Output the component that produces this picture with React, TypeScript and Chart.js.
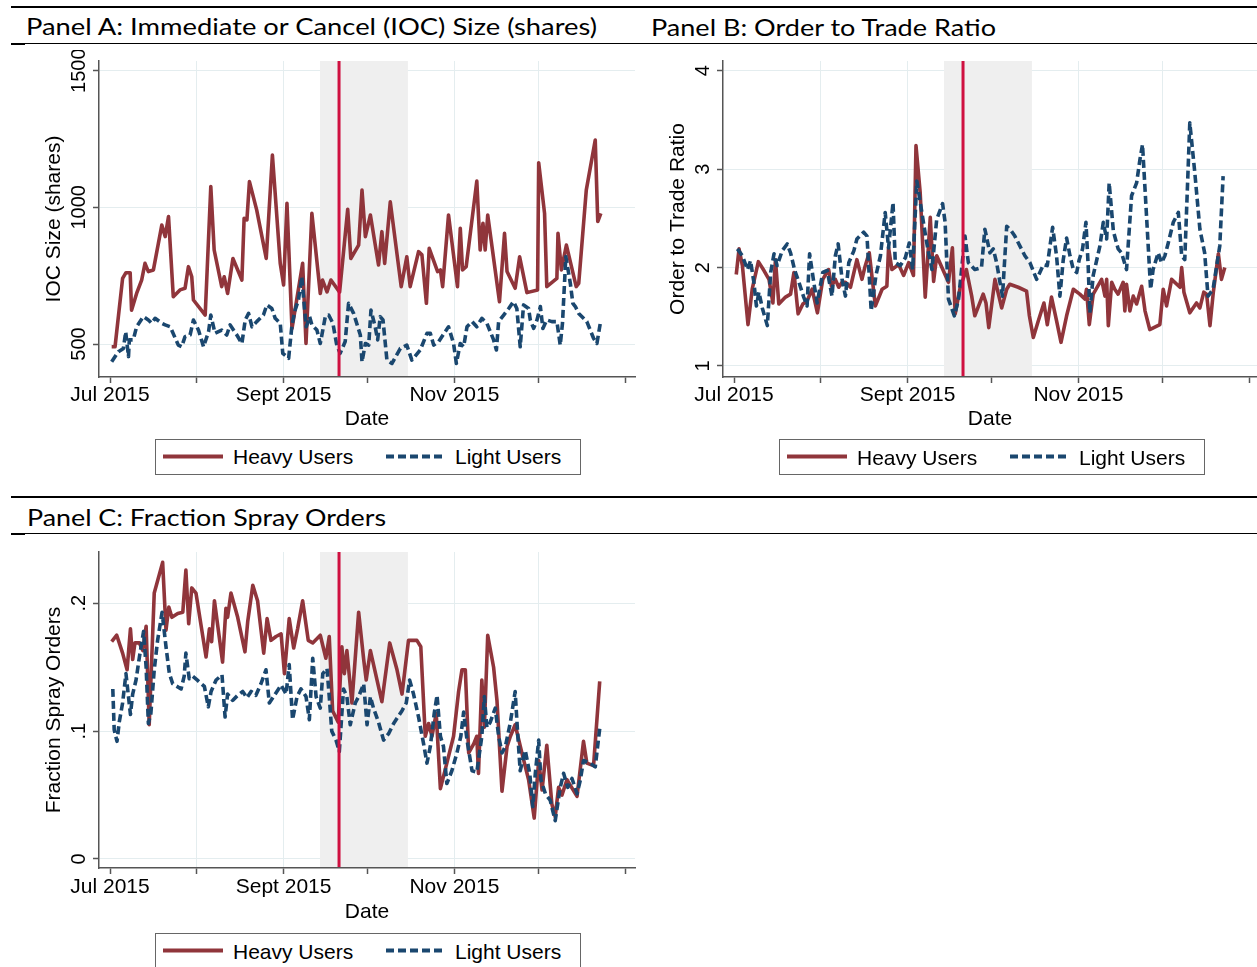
import React, { useEffect, useLayoutEffect, useRef } from "react";
import { Chart, registerables } from "chart.js";

Chart.register(...registerables);

// ---------------- data ----------------
// x values are days since 1 Jul 2015
const monthTickDays = [0, 31, 62, 92, 123, 153, 184];
const monthTickLabels = ["Jul 2015", "", "Sept 2015", "", "Nov 2015", "", ""];
const gridDays = [31, 62, 92, 123, 153];
const shadeStartDay = 75;
const shadeEndDay = 106.4;
const eventDay = 81.8;

const seriesNames = ["Heavy Users", "Light Users"];
const panelTitles = [
  "Panel A: Immediate or Cancel (IOC) Size (shares)",
  "Panel B: Order to Trade Ratio",
  "Panel C: Fraction Spray Orders",
];
const yTitles = ["IOC Size (shares)", "Order to Trade Ratio", "Fraction Spray Orders"];
const xTitle = "Date";

const iocTicks = [500, 1000, 1500];
const iocTickLabels = ["500", "1000", "1500"];
const otrTicks = [1, 2, 3, 4];
const otrTickLabels = ["1", "2", "3", "4"];
const sprayTicks = [0, 0.1, 0.2];
const sprayTickLabels = ["0", ".1", ".2"];

// Panel A – IOC size, heavy users
const iocHeavyDays = [0.6, 1.8, 4.5, 5.7, 7.2, 7.7, 9.5, 11.3, 12.5, 13.7, 15.5, 18.5, 19.7, 20.9, 22.6, 25.0, 26.8, 28.0, 29.2, 29.8, 34.0, 36.0, 37.2, 39.9, 40.8, 42.0, 43.9, 47.1, 47.9, 48.9, 49.8, 52.4, 55.8, 58.0, 60.8, 62.0, 63.2, 65.0, 68.8, 70.0, 72.1, 75.1, 75.9, 77.5, 78.9, 82.0, 84.9, 86.0, 88.8, 90.0, 91.2, 93.0, 95.9, 97.1, 98.1, 100.1, 104.0, 106.0, 107.2, 110.2, 111.4, 113.0, 114.0, 117.0, 118.0, 118.8, 120.9, 124.1, 125.1, 125.9, 127.2, 131.0, 132.2, 133.2, 134.0, 134.9, 139.1, 140.9, 141.8, 144.7, 146.3, 148.9, 152.7, 153.1, 155.2, 156.0, 159.6, 160.0, 161.2, 163.0, 166.5, 167.4, 170.1, 173.3, 174.2, 175.3];
const iocHeavyVals = [490, 490, 740, 761, 761, 624, 685, 734, 795, 765, 771, 935, 893, 966, 673, 698, 704, 783, 746, 661, 606, 1076, 844, 710, 746, 685, 813, 734, 960, 954, 1094, 990, 813, 1191, 795, 716, 1015, 557, 795, 502, 978, 685, 734, 691, 734, 690, 993, 813, 862, 1063, 893, 972, 789, 911, 795, 1020, 710, 819, 710, 838, 826, 649, 850, 765, 771, 710, 972, 710, 923, 771, 783, 1096, 844, 942, 844, 972, 655, 905, 765, 704, 819, 688, 698, 1163, 978, 710, 740, 905, 771, 862, 710, 722, 1063, 1246, 948, 978];

// Panel A – IOC size, light users
const iocLightDays = [0.6, 3.0, 4.8, 5.6, 6.6, 6.9, 8.3, 9.5, 11.9, 13.7, 14.9, 16.1, 18.5, 19.7, 21.5, 24.4, 25.6, 26.8, 28.6, 29.8, 31.6, 33.4, 35.2, 36.0, 37.5, 39.9, 41.7, 42.9, 44.1, 45.3, 47.1, 48.3, 49.5, 50.7, 52.4, 53.6, 54.8, 56.0, 57.8, 59.0, 60.8, 61.7, 63.8, 65.0, 66.1, 67.3, 68.5, 69.4, 70.1, 71.3, 72.1, 73.9, 75.1, 76.9, 78.1, 79.6, 81.0, 82.2, 84.0, 85.2, 87.0, 89.4, 90.0, 91.2, 92.4, 93.2, 94.7, 95.6, 96.5, 97.5, 98.9, 100.7, 103.7, 106.0, 107.8, 110.8, 113.2, 114.4, 115.6, 117.4, 119.7, 120.9, 122.7, 123.7, 125.1, 126.3, 127.5, 129.3, 131.0, 132.8, 134.6, 137.0, 138.0, 138.8, 140.6, 142.4, 144.1, 145.3, 146.5, 147.7, 149.5, 150.1, 151.3, 152.5, 153.7, 154.6, 156.0, 157.8, 159.6, 160.8, 161.6, 162.8, 164.4, 165.3, 166.2, 167.4, 170.3, 172.7, 173.9, 175.1];
const iocLightVals = [435, 472, 484, 545, 454, 515, 515, 563, 600, 588, 576, 594, 576, 570, 563, 496, 490, 527, 533, 588, 551, 490, 545, 606, 539, 551, 533, 570, 551, 533, 502, 588, 612, 563, 582, 594, 606, 643, 630, 594, 576, 466, 448, 570, 624, 661, 746, 637, 563, 600, 570, 551, 502, 600, 606, 576, 495, 466, 509, 649, 612, 533, 435, 502, 496, 624, 563, 515, 600, 588, 441, 429, 484, 496, 441, 478, 539, 539, 496, 509, 545, 563, 502, 429, 502, 490, 563, 582, 563, 594, 576, 515, 478, 582, 606, 630, 655, 630, 490, 643, 630, 588, 557, 588, 637, 557, 588, 582, 582, 496, 576, 820, 722, 649, 637, 612, 582, 521, 502, 576];

// Panel B – order to trade ratio, heavy users
const otrHeavyDays = [0.8, 1.8, 3.0, 5.0, 6.5, 8.7, 10.7, 12.5, 13.9, 14.8, 16.0, 18.4, 20.2, 21.4, 22.9, 24.6, 26.1, 27.9, 29.8, 31.7, 33.8, 34.8, 36.2, 37.4, 38.6, 39.8, 41.6, 43.9, 45.7, 46.7, 48.3, 50.5, 52.9, 54.6, 55.2, 56.4, 58.8, 60.6, 62.4, 64.1, 65.0, 66.5, 68.3, 70.1, 71.3, 72.4, 76.6, 78.0, 79.0, 80.8, 83.0, 84.9, 86.0, 89.0, 90.0, 91.0, 93.2, 95.6, 97.4, 98.5, 101.5, 104.5, 105.5, 106.9, 108.7, 110.7, 111.9, 113.4, 115.2, 116.8, 118.8, 121.2, 123.5, 125.3, 125.9, 126.9, 128.3, 131.3, 132.5, 133.1, 133.7, 134.9, 136.0, 137.2, 139.0, 139.6, 140.2, 141.4, 142.6, 143.8, 145.6, 146.8, 148.5, 152.1, 153.3, 154.5, 156.3, 159.3, 159.9, 160.7, 162.8, 165.2, 166.4, 167.8, 168.8, 170.0, 171.2, 173.0, 174.1, 175.3];
const otrHeavyVals = [1.93, 2.19, 2.02, 1.42, 1.78, 2.06, 1.97, 1.88, 1.64, 2.08, 1.63, 1.70, 1.73, 1.95, 1.53, 1.63, 1.66, 1.78, 1.54, 1.88, 1.98, 1.81, 1.88, 1.80, 1.85, 1.85, 1.80, 2.08, 1.88, 2.00, 2.15, 1.61, 1.78, 1.81, 2.20, 1.98, 2.03, 1.92, 2.05, 1.92, 3.24, 2.76, 1.70, 2.51, 1.86, 2.12, 1.85, 2.20, 1.53, 1.80, 1.98, 1.71, 1.51, 1.73, 1.64, 1.39, 1.88, 1.59, 1.78, 1.83, 1.80, 1.76, 1.51, 1.29, 1.46, 1.64, 1.42, 1.70, 1.46, 1.24, 1.51, 1.78, 1.73, 1.68, 1.78, 1.42, 1.73, 1.88, 1.71, 1.88, 1.41, 1.85, 1.78, 1.73, 1.85, 1.56, 1.83, 1.56, 1.71, 1.63, 1.81, 1.56, 1.37, 1.42, 1.78, 1.61, 1.88, 1.80, 2.00, 1.75, 1.54, 1.64, 1.59, 1.75, 1.73, 1.41, 1.75, 2.14, 1.88, 2.00];

// Panel B – order to trade ratio, light users
const otrLightDays = [1.2, 3.0, 4.8, 5.9, 7.1, 8.0, 8.9, 10.1, 11.9, 13.1, 14.3, 15.4, 17.2, 19.0, 20.2, 21.7, 23.2, 24.9, 26.1, 27.0, 28.5, 29.7, 31.7, 33.3, 35.0, 36.2, 37.2, 38.6, 39.8, 41.0, 42.8, 43.9, 46.3, 47.5, 49.0, 50.7, 52.3, 54.0, 55.2, 56.8, 57.6, 59.4, 61.2, 62.6, 63.8, 65.3, 67.1, 68.6, 69.5, 70.7, 72.4, 74.5, 75.4, 76.6, 78.7, 80.2, 82.5, 83.7, 86.0, 88.4, 89.6, 91.4, 92.6, 93.8, 95.0, 95.9, 97.4, 99.1, 100.3, 102.1, 103.9, 105.7, 108.1, 110.5, 111.9, 113.8, 115.2, 116.4, 117.6, 118.8, 120.0, 121.2, 122.4, 123.3, 124.5, 125.7, 126.5, 127.1, 128.3, 130.7, 131.9, 133.1, 134.0, 135.5, 137.2, 138.4, 140.2, 142.0, 143.8, 145.0, 145.9, 146.8, 148.0, 148.8, 149.7, 151.5, 152.7, 153.9, 155.1, 156.9, 158.7, 159.9, 161.0, 162.8, 164.0, 164.6, 166.4, 168.1, 169.3, 171.1, 173.5, 174.7];
const otrLightVals = [2.19, 2.12, 1.98, 2.07, 1.85, 1.61, 1.75, 1.59, 1.41, 1.95, 2.14, 2.02, 2.17, 2.24, 2.15, 1.97, 1.85, 1.70, 1.61, 2.14, 1.85, 1.64, 1.95, 1.97, 1.71, 2.12, 2.24, 1.88, 1.71, 2.05, 2.17, 2.29, 2.36, 2.32, 1.56, 1.92, 2.12, 2.56, 2.20, 2.66, 2.05, 2.02, 2.10, 2.25, 1.98, 2.88, 2.56, 2.29, 2.15, 1.98, 2.49, 2.65, 2.46, 1.68, 1.51, 1.68, 2.32, 2.05, 1.98, 2.00, 2.39, 2.15, 2.19, 2.05, 1.85, 1.71, 2.42, 2.37, 2.32, 2.22, 2.12, 2.05, 1.88, 2.03, 2.02, 2.41, 2.12, 1.71, 2.08, 2.30, 2.12, 1.98, 1.95, 2.08, 2.19, 2.46, 2.02, 1.54, 1.92, 2.22, 2.46, 2.29, 2.86, 2.37, 2.19, 2.15, 1.98, 2.73, 2.86, 3.10, 3.25, 2.80, 2.19, 1.78, 1.98, 2.15, 2.05, 2.12, 2.25, 2.46, 2.56, 2.12, 2.08, 3.47, 3.13, 2.96, 2.39, 2.15, 1.71, 1.78, 2.22, 2.93];

// Panel C – fraction spray orders, heavy users
const sprayHeavyDays = [0.6, 2.4, 4.5, 6.1, 7.3, 8.1, 8.9, 10.5, 11.7, 12.9, 14.0, 15.8, 18.8, 20.0, 21.0, 22.1, 24.2, 26.0, 27.1, 28.1, 29.2, 30.7, 34.3, 35.5, 36.3, 37.3, 40.2, 41.4, 42.0, 43.2, 45.6, 48.2, 49.2, 51.0, 52.7, 54.9, 56.1, 57.5, 59.3, 61.1, 62.3, 64.0, 65.6, 67.0, 68.8, 70.8, 72.4, 75.1, 77.1, 78.3, 79.5, 81.5, 82.8, 83.7, 84.6, 86.4, 88.8, 90.6, 91.5, 93.0, 97.1, 99.9, 102.5, 104.3, 106.6, 109.6, 111.0, 112.6, 113.8, 115.0, 116.5, 118.0, 120.3, 122.7, 124.5, 125.7, 126.9, 128.1, 129.9, 131.0, 131.6, 132.8, 133.7, 134.9, 137.0, 138.2, 140.0, 141.8, 143.0, 144.7, 147.1, 149.5, 151.5, 153.1, 154.3, 156.0, 157.8, 159.0, 160.2, 161.4, 163.2, 166.8, 169.1, 170.3, 172.7, 174.9];
const sprayHeavyVals = [0.170, 0.175, 0.161, 0.148, 0.180, 0.156, 0.169, 0.169, 0.163, 0.182, 0.105, 0.208, 0.232, 0.179, 0.197, 0.189, 0.192, 0.193, 0.226, 0.184, 0.212, 0.208, 0.158, 0.180, 0.170, 0.202, 0.154, 0.196, 0.189, 0.208, 0.189, 0.162, 0.186, 0.214, 0.202, 0.161, 0.188, 0.171, 0.174, 0.176, 0.145, 0.188, 0.165, 0.180, 0.202, 0.171, 0.169, 0.175, 0.157, 0.174, 0.116, 0.107, 0.166, 0.145, 0.163, 0.122, 0.193, 0.156, 0.140, 0.163, 0.123, 0.169, 0.148, 0.129, 0.171, 0.171, 0.166, 0.096, 0.106, 0.096, 0.114, 0.055, 0.075, 0.096, 0.131, 0.148, 0.148, 0.083, 0.090, 0.096, 0.067, 0.140, 0.103, 0.175, 0.150, 0.124, 0.053, 0.088, 0.096, 0.105, 0.083, 0.062, 0.032, 0.077, 0.054, 0.089, 0.043, 0.033, 0.056, 0.050, 0.062, 0.049, 0.092, 0.075, 0.073, 0.139];

// Panel C – fraction spray orders, light users
const sprayLightDays = [1.0, 1.5, 2.5, 3.3, 4.5, 5.7, 6.5, 7.3, 8.1, 9.3, 10.5, 12.0, 12.9, 13.7, 14.6, 15.8, 17.0, 18.6, 20.0, 21.2, 22.4, 25.4, 26.5, 27.1, 28.3, 29.5, 31.1, 33.7, 35.1, 36.1, 37.9, 40.0, 41.1, 42.0, 43.8, 45.6, 47.4, 48.9, 50.4, 52.1, 53.9, 55.7, 56.9, 58.7, 61.1, 62.9, 64.0, 65.2, 66.8, 68.2, 70.0, 71.2, 72.4, 73.6, 75.1, 76.0, 77.5, 78.3, 79.2, 80.7, 81.9, 83.4, 84.6, 85.8, 87.6, 88.8, 90.6, 91.8, 93.0, 94.1, 95.9, 97.7, 99.5, 101.3, 104.3, 105.8, 107.0, 108.4, 110.2, 112.0, 113.2, 114.4, 115.8, 116.8, 118.0, 119.1, 120.3, 122.1, 123.9, 125.3, 126.3, 127.5, 129.3, 131.0, 132.8, 133.7, 134.6, 135.8, 137.6, 138.8, 140.0, 141.2, 143.0, 144.7, 145.6, 146.5, 148.3, 149.9, 151.0, 151.9, 153.1, 153.9, 155.5, 157.2, 159.0, 160.8, 162.0, 163.5, 165.0, 166.8, 168.0, 169.1, 171.5, 173.3, 174.9];
const sprayLightVals = [0.133, 0.101, 0.092, 0.107, 0.122, 0.145, 0.129, 0.113, 0.129, 0.140, 0.158, 0.178, 0.150, 0.106, 0.114, 0.148, 0.171, 0.193, 0.166, 0.145, 0.137, 0.133, 0.143, 0.161, 0.141, 0.143, 0.140, 0.135, 0.119, 0.131, 0.140, 0.144, 0.111, 0.129, 0.124, 0.128, 0.131, 0.126, 0.131, 0.128, 0.137, 0.148, 0.122, 0.128, 0.136, 0.129, 0.152, 0.109, 0.127, 0.133, 0.127, 0.109, 0.157, 0.127, 0.118, 0.145, 0.149, 0.127, 0.100, 0.093, 0.084, 0.133, 0.127, 0.105, 0.122, 0.127, 0.137, 0.105, 0.127, 0.118, 0.107, 0.093, 0.098, 0.106, 0.116, 0.122, 0.140, 0.129, 0.111, 0.090, 0.075, 0.088, 0.114, 0.128, 0.096, 0.088, 0.059, 0.069, 0.083, 0.096, 0.115, 0.093, 0.069, 0.068, 0.096, 0.127, 0.103, 0.107, 0.118, 0.096, 0.083, 0.088, 0.107, 0.131, 0.098, 0.069, 0.085, 0.067, 0.041, 0.067, 0.093, 0.062, 0.051, 0.046, 0.030, 0.056, 0.067, 0.056, 0.063, 0.051, 0.062, 0.077, 0.075, 0.072, 0.102];

// ---------------- styles ----------------
const HEAVY = "#90353B";
const LIGHT = "#1A476F";
const EVENT = "#CF1040";
const SHADE = "#EFEFEF";
const GRID = "#E4EDEF";
const AXIS = "#555555";
const SANS = "'Liberation Sans', Arial, Helvetica, sans-serif";
const TITLE_FONT = "Lato, 'Open Sans', sans-serif";

type Spec = {
  left: number; top: number; width: number; height: number;
  plotLeft: number; plotTop: number; plotRight: number; plotBottom: number;
  xMin: number; xMax: number; yMin: number; yMax: number;
  yTicks: number[]; yTickLabels: string[]; yTitle: string;
  heavyDays: number[]; heavyVals: number[]; lightDays: number[]; lightVals: number[];
  xLabelPad: number; xTitleOffset: number;
};

function buildConfig(s: Spec): any {
  const yW = s.plotLeft - s.left;
  const xH = s.top + s.height - s.plotBottom;
  const padTop = s.plotTop - s.top;
  const padRight = s.left + s.width - s.plotRight;

  const decor = {
    id: "decor",
    beforeDatasetsDraw(chart: any) {
      const { ctx, chartArea: a, scales } = chart;
      const x0 = scales.x.getPixelForValue(shadeStartDay);
      const x1 = scales.x.getPixelForValue(shadeEndDay);
      ctx.save();
      ctx.fillStyle = SHADE;
      ctx.fillRect(x0, a.top, x1 - x0, a.bottom - a.top - 1);
      ctx.restore();
    },
    afterDatasetsDraw(chart: any) {
      const { ctx, chartArea: a, scales } = chart;
      const xe = scales.x.getPixelForValue(eventDay);
      ctx.save();
      ctx.strokeStyle = EVENT;
      ctx.lineWidth = 3;
      ctx.beginPath();
      ctx.moveTo(xe, a.top);
      ctx.lineTo(xe, a.bottom - 1);
      ctx.stroke();
      ctx.restore();
    },
    afterDraw(chart: any) {
      const { ctx, chartArea: a, scales } = chart;
      ctx.save();
      ctx.fillStyle = "#000";
      ctx.textAlign = "center";
      ctx.textBaseline = "middle";
      ctx.font = `20px ${SANS}`;
      s.yTicks.forEach((v, i) => {
        const py = scales.y.getPixelForValue(v);
        ctx.save();
        ctx.translate(a.left - 20, py);
        ctx.rotate(-Math.PI / 2);
        ctx.fillText(s.yTickLabels[i], 0, 0);
        ctx.restore();
      });
      ctx.font = `21px ${SANS}`;
      ctx.save();
      ctx.translate(a.left - 44.5, (a.top + a.bottom) / 2);
      ctx.rotate(-Math.PI / 2);
      ctx.fillText(s.yTitle, 0, 0);
      ctx.restore();
      ctx.fillText(xTitle, (a.left + a.right) / 2, a.bottom + s.xTitleOffset);
      ctx.restore();
    },
  };

  return {
    type: "line",
    data: {
      datasets: [
        {
          label: seriesNames[0],
          data: s.heavyDays.map((d, i) => ({ x: d, y: s.heavyVals[i] })),
          borderColor: HEAVY,
          borderWidth: 3.6,
          pointRadius: 0,
          tension: 0,
          fill: false,
          borderJoinStyle: "round",
          order: 2,
        },
        {
          label: seriesNames[1],
          data: s.lightDays.map((d, i) => ({ x: d, y: s.lightVals[i] })),
          borderColor: LIGHT,
          borderWidth: 3.6,
          borderDash: [8, 4],
          pointRadius: 0,
          tension: 0,
          fill: false,
          borderJoinStyle: "round",
          order: 1,
        },
      ],
    },
    options: {
      animation: false,
      responsive: false,
      maintainAspectRatio: false,
      events: [],
      layout: { padding: { left: 0, top: padTop, right: padRight, bottom: 0 } },
      plugins: { legend: { display: false }, tooltip: { enabled: false }, title: { display: false } },
      scales: {
        x: {
          type: "linear",
          min: s.xMin,
          max: s.xMax,
          afterBuildTicks: (sc: any) => {
            sc.ticks = monthTickDays.map((v) => ({ value: v }));
          },
          afterFit: (sc: any) => {
            sc.height = xH;
          },
          grid: {
            color: (c: any) => (c.tick && gridDays.includes(c.tick.value) ? GRID : "rgba(0,0,0,0)"),
            lineWidth: 1,
            tickColor: AXIS,
            tickWidth: 1.5,
            tickLength: 6,
            drawTicks: true,
          },
          border: { color: AXIS, width: 1.5 },
          ticks: {
            autoSkip: false,
            maxRotation: 0,
            minRotation: 0,
            padding: s.xLabelPad,
            color: "#000",
            font: { family: SANS, size: 21, lineHeight: 1 },
            callback: (v: any) => {
              const idx = monthTickDays.indexOf(Number(v));
              return idx >= 0 ? monthTickLabels[idx] : "";
            },
          },
          title: { display: false },
        },
        y: {
          type: "linear",
          min: s.yMin,
          max: s.yMax,
          afterBuildTicks: (sc: any) => {
            sc.ticks = s.yTicks.map((v) => ({ value: v }));
          },
          afterFit: (sc: any) => {
            sc.width = yW;
          },
          grid: {
            color: GRID,
            lineWidth: 1,
            tickColor: AXIS,
            tickWidth: 1.5,
            tickLength: 6,
            drawTicks: true,
          },
          border: { color: AXIS, width: 1.5 },
          ticks: { display: false },
          title: { display: false },
        },
      },
    },
    plugins: [decor],
  };
}

function Panel({ spec }: { spec: Spec }) {
  const ref = useRef<HTMLCanvasElement>(null);
  useEffect(() => {
    const canvas = ref.current;
    if (!canvas) return;
    const chart = new Chart(canvas, buildConfig(spec));
    return () => chart.destroy();
  }, [spec]);
  return (
    <canvas
      ref={ref}
      width={spec.width}
      height={spec.height}
      style={{ position: "absolute", left: spec.left, top: spec.top, width: spec.width, height: spec.height }}
    />
  );
}

function FitTitle({ text, left, top, width }: { text: string; left: number; top: number; width: number }) {
  const ref = useRef<HTMLSpanElement>(null);
  useLayoutEffect(() => {
    const el = ref.current;
    if (!el) return;
    el.style.transform = "none";
    const w = el.getBoundingClientRect().width;
    if (w > 0) el.style.transform = `scaleX(${width / w})`;
  }, [text, width]);
  return (
    <span
      ref={ref}
      style={{
        position: "absolute",
        left,
        top,
        fontFamily: TITLE_FONT,
        fontSize: 24,
        lineHeight: "24px",
        whiteSpace: "nowrap",
        transformOrigin: "0 0",
        color: "#000",
      }}
    >
      {text}
    </span>
  );
}

function Legend({ left, top }: { left: number; top: number }) {
  const textStyle: React.CSSProperties = {
    position: "absolute",
    top: 6.5,
    fontFamily: SANS,
    fontSize: 21,
    lineHeight: "21px",
    whiteSpace: "nowrap",
    color: "#000",
  };
  return (
    <div
      style={{
        position: "absolute",
        left,
        top,
        width: 426,
        height: 36,
        boxSizing: "border-box",
        border: "1px solid #666",
        background: "#fff",
      }}
    >
      <svg width={424} height={34} style={{ position: "absolute", left: 0, top: 0 }}>
        <line x1={7} x2={67} y1={16.5} y2={16.5} stroke={HEAVY} strokeWidth={3.8} />
        <line x1={230} x2={290} y1={16.5} y2={16.5} stroke={LIGHT} strokeWidth={3.8} strokeDasharray="8 4" />
      </svg>
      <span style={{ ...textStyle, left: 77 }}>{seriesNames[0]}</span>
      <span style={{ ...textStyle, left: 299 }}>{seriesNames[1]}</span>
    </div>
  );
}

const specA: Spec = {
  left: 0, top: 50, width: 636, height: 440,
  plotLeft: 99, plotTop: 61, plotRight: 635, plotBottom: 377,
  xMin: -3.93, xMax: 187.5, yMin: 379.3, yMax: 1535.5,
  yTicks: iocTicks, yTickLabels: iocTickLabels, yTitle: yTitles[0],
  heavyDays: iocHeavyDays, heavyVals: iocHeavyVals, lightDays: iocLightDays, lightVals: iocLightVals,
  xLabelPad: 1.5, xTitleOffset: 42,
};
const specB: Spec = {
  left: 636, top: 50, width: 621, height: 440,
  plotLeft: 723, plotTop: 61, plotRight: 1257, plotBottom: 377,
  xMin: -3.93, xMax: 186.8, yMin: 0.888, yMax: 4.099,
  yTicks: otrTicks, yTickLabels: otrTickLabels, yTitle: yTitles[1],
  heavyDays: otrHeavyDays, heavyVals: otrHeavyVals, lightDays: otrLightDays, lightVals: otrLightVals,
  xLabelPad: 1.5, xTitleOffset: 42,
};
const specC: Spec = {
  left: 0, top: 540, width: 636, height: 427,
  plotLeft: 99, plotTop: 552, plotRight: 635, plotBottom: 868,
  xMin: -3.93, xMax: 187.5, yMin: -0.00704, yMax: 0.2401,
  yTicks: sprayTicks, yTickLabels: sprayTickLabels, yTitle: yTitles[2],
  heavyDays: sprayHeavyDays, heavyVals: sprayHeavyVals, lightDays: sprayLightDays, lightVals: sprayLightVals,
  xLabelPad: 3, xTitleOffset: 44.5,
};

function Rule({ left, top, width, height }: { left: number; top: number; width: number; height: number }) {
  return <div style={{ position: "absolute", left, top, width, height, background: "#000" }} />;
}

export default function App() {
  return (
    <div
      style={{
        position: "absolute",
        left: 0,
        top: 0,
        width: 1257,
        height: 967,
        overflow: "hidden",
        background: "#fff",
      }}
    >
      <Rule left={11} top={6} width={1246} height={2} />
      <Rule left={11} top={43} width={1246} height={1} />
      <Rule left={11} top={43} width={14} height={2} />
      <Rule left={11} top={496} width={1246} height={2} />
      <Rule left={11} top={533} width={1246} height={1} />
      <Rule left={11} top={533} width={14} height={2} />

      <FitTitle text={panelTitles[0]} left={26} top={14.2} width={571} />
      <FitTitle text={panelTitles[1]} left={650.5} top={14.7} width={345} />
      <FitTitle text={panelTitles[2]} left={26.5} top={504.7} width={359} />

      <Panel spec={specA} />
      <Panel spec={specB} />
      <Panel spec={specC} />

      <Legend left={155} top={438.5} />
      <Legend left={779} top={439} />
      <Legend left={155} top={933} />
    </div>
  );
}
